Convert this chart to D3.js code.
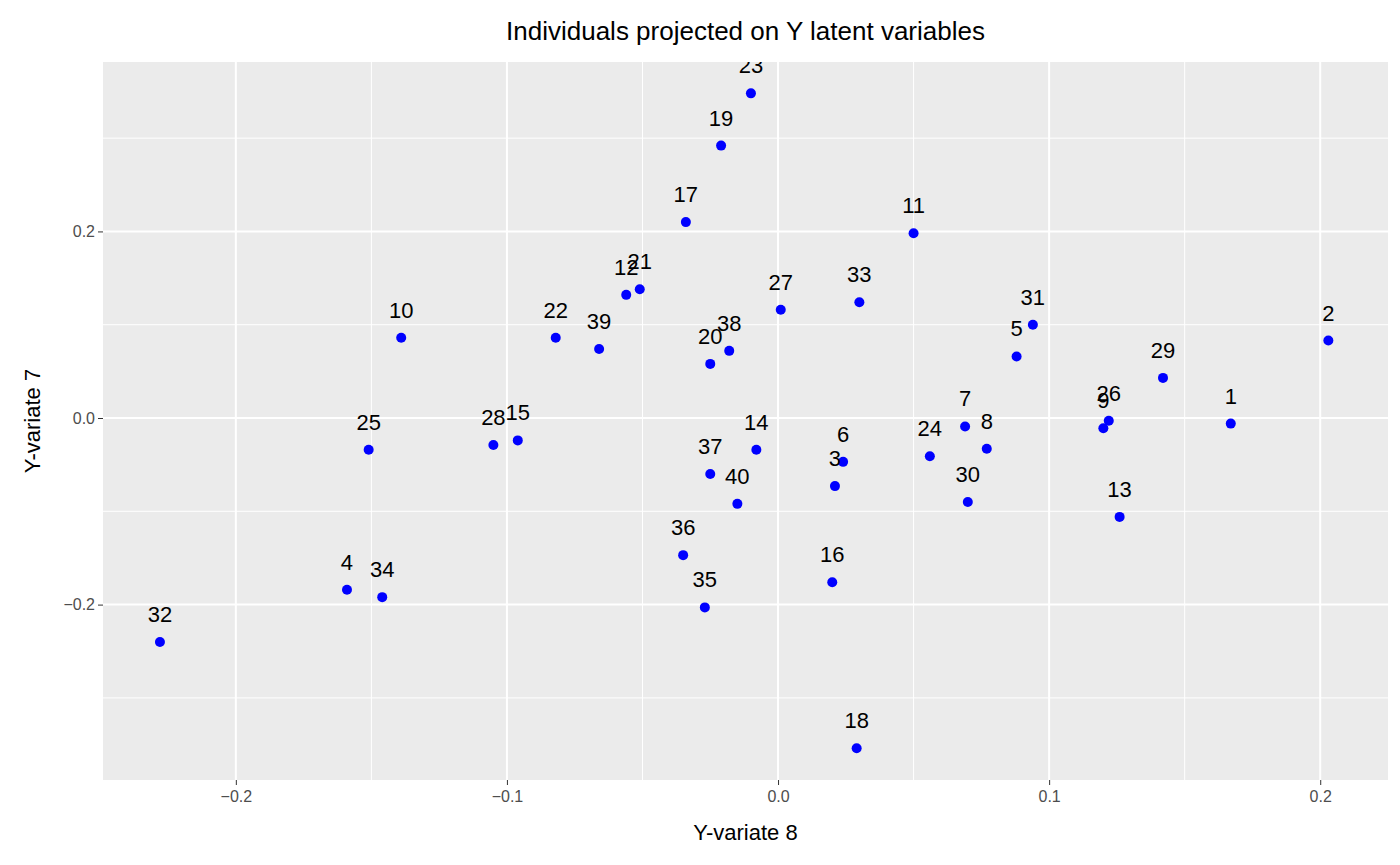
<!DOCTYPE html>
<html><head><meta charset="utf-8">
<script src="https://cdn.jsdelivr.net/npm/d3@7"></script>
<style>body{margin:0;background:#fff}</style>
</head><body>
<script>
var ids = [1,2,3,4,5,6,7,8,9,10,11,12,13,14,15,16,17,18,19,20,21,22,23,24,25,26,27,28,29,30,31,32,33,34,35,36,37,38,39,40];
var xs = [0.167,0.203,0.021,-0.159,0.088,0.024,0.069,0.077,0.120,-0.139,0.050,-0.056,0.126,-0.008,-0.096,0.020,-0.034,0.029,-0.021,-0.025,-0.051,-0.082,-0.010,0.056,-0.151,0.122,0.001,-0.105,0.142,0.070,0.094,-0.228,0.030,-0.146,-0.027,-0.035,-0.025,-0.018,-0.066,-0.015];
var ys = [-0.006,0.083,-0.073,-0.184,0.066,-0.047,-0.009,-0.033,-0.011,0.086,0.198,0.132,-0.106,-0.034,-0.024,-0.176,0.210,-0.354,0.292,0.058,0.138,0.086,0.348,-0.041,-0.034,-0.003,0.116,-0.029,0.043,-0.090,0.100,-0.240,0.124,-0.192,-0.203,-0.147,-0.060,0.072,0.074,-0.092];
var xTicks = [-0.2,-0.1,0.0,0.1,0.2];
var yTicks = [-0.2,0.0,0.2];

var W=1400,H=865,L=103,R=1388,T=62,B=780;
var svg=d3.select('body').append('svg').attr('width',W).attr('height',H)
  .style('font-family','Liberation Sans, Arial, sans-serif');
var x=d3.scaleLinear().domain([-0.249,0.225]).range([L,R]);
var y=d3.scaleLinear().domain([-0.388,0.3816]).range([B,T]);

svg.append('defs').append('clipPath').attr('id','clip')
  .append('rect').attr('x',L).attr('y',T).attr('width',R-L).attr('height',B-T);
svg.append('rect').attr('x',L).attr('y',T).attr('width',R-L).attr('height',B-T).attr('fill','#ebebeb');

var g=svg.append('g').attr('clip-path','url(#clip)');
var xMinor=[-0.25,-0.15,-0.05,0.05,0.15], yMinor=[-0.3,-0.1,0.1,0.3];
xMinor.forEach(function(v){g.append('line').attr('x1',x(v)).attr('x2',x(v)).attr('y1',T).attr('y2',B).attr('stroke','#fff').attr('stroke-width',1);});
yMinor.forEach(function(v){g.append('line').attr('y1',y(v)).attr('y2',y(v)).attr('x1',L).attr('x2',R).attr('stroke','#fff').attr('stroke-width',1);});
xTicks.forEach(function(v){g.append('line').attr('x1',x(v)).attr('x2',x(v)).attr('y1',T).attr('y2',B).attr('stroke','#fff').attr('stroke-width',2);});
yTicks.forEach(function(v){g.append('line').attr('y1',y(v)).attr('y2',y(v)).attr('x1',L).attr('x2',R).attr('stroke','#fff').attr('stroke-width',2);});

var data=ids.map(function(d,i){return {id:d,x:xs[i],y:ys[i]};});
g.selectAll('circle').data(data).enter().append('circle')
  .attr('cx',function(d){return x(d.x);}).attr('cy',function(d){return y(d.y);})
  .attr('r',5).attr('fill','#0000ff');
g.selectAll('text.lab').data(data).enter().append('text')
  .attr('x',function(d){return x(d.x);}).attr('y',function(d){return y(d.y)-20;})
  .attr('text-anchor','middle').attr('font-size',22).attr('fill','#000').text(function(d){return d.id;});

var xa=svg.append('g').attr('transform','translate(0,'+B+')')
  .call(d3.axisBottom(x).tickValues(xTicks).tickFormat(d3.format('.1f')).tickSize(5));
var ya=svg.append('g').attr('transform','translate('+L+',0)')
  .call(d3.axisLeft(y).tickValues(yTicks).tickFormat(d3.format('.1f')).tickSize(5));
[xa,ya].forEach(function(a){
  a.select('.domain').remove();
  a.selectAll('line').attr('stroke','#333');
  a.selectAll('text').attr('font-size',16).attr('fill','#4d4d4d').style('font-family','Liberation Sans, Arial, sans-serif');
});
xa.selectAll('text').attr('dy','0.85em');

svg.append('text').attr('x',(L+R)/2).attr('y',40).attr('text-anchor','middle').attr('font-size',26).text('Individuals projected on Y latent variables');
svg.append('text').attr('x',(L+R)/2).attr('y',840).attr('text-anchor','middle').attr('font-size',22).text('Y-variate 8');
svg.append('text').attr('transform','translate(40,'+((T+B)/2)+') rotate(-90)').attr('text-anchor','middle').attr('font-size',22).text('Y-variate  7');
</script>
</body></html>
